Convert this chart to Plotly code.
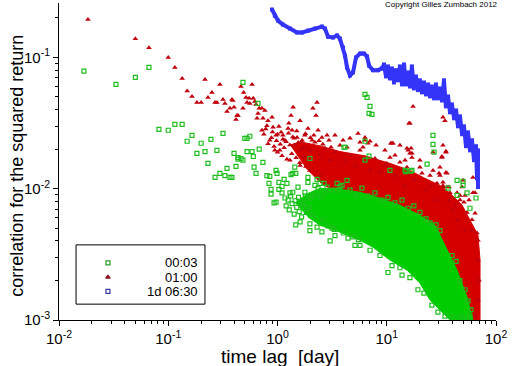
import plotly.graph_objects as go

# ---------------- data ----------------
# 00:03 series (green squares): scattered points
green_lag = [0.0169, 0.0332, 0.05, 0.0666, 0.0822, 0.1, 0.115, 0.134, 0.149, 0.165, 0.183, 0.2, 0.217, 0.231,
             0.246, 0.268, 0.279, 0.297, 0.317, 0.33, 0.345, 0.367, 0.383, 0.4, 0.417, 0.435, 0.463, 0.483,
             0.502, 0.526, 0.558, 0.526, 0.585, 0.6, 0.61, 0.636, 0.663, 0.68, 0.736, 0.8, 0.85, 0.836, 0.873,
             0.97, 0.99, 1.03, 1.1, 1.15, 1.22, 1.33, 1.38, 1.44, 1.47, 0.93, 0.97, 1.03, 1.17, 1.25, 1.1,
             0.873, 1.30, 1.38, 1.54, 1.90, 1.90, 1.98, 2.2, 2.3, 2.45, 2.67, 2.84, 3.51, 3.9, 4.15, 3.58,
             4.33, 2.3, 3.15, 4.06, 6.32, 6.32, 6.32, 6.6, 7.03, 7.32, 6.88, 6.88, 26.5, 26.5, 27.1, 23.4,
             44.0, 49.9, 54.3, 44.0, 49.9, 15.0, 16.7, 10.7, 17.0, 14.7, 36.4, 65.6, 57.8, 0.483, 0.435,
             1.78, 2.07, 2.35, 2.78, 3.22, 3.73, 4.61, 5.23, 5.93, 6.73, 7.8, 9.05, 10.26, 11.9, 13.8, 15.7,
             17.7, 20.1, 22.9, 24.9, 28.2, 30.7,
             1.61, 1.98, 2.55, 3.36, 4.42, 5.69, 7.03, 8.67, 11.17, 13.2, 16.3, 19.3, 21.9, 25.9, 29.4, 34.1,
             10.26, 13.8, 5.12, 3.03, 1.98, 1.47, 39.5, 46.8, 53.1, 57.8,
             39.5, 43.1, 46.8, 52.0, 55.4, 59.0,
             1.2, 1.28, 1.36, 1.42, 1.5, 1.58, 1.66, 1.72, 1.84, 1.95, 2.12, 2.6, 2.9, 3.3, 4.0, 4.9, 5.5,
             1.32, 1.45, 1.56, 1.7, 1.8, 2.0, 2.25, 2.5]
green_corr = [0.0786, 0.0623, 0.0705, 0.084, 0.0283, 0.0279, 0.0309, 0.0309, 0.023, 0.0255, 0.0186, 0.0222,
              0.0192, 0.0156, 0.0238, 0.0122, 0.0196, 0.0131, 0.0264, 0.0126, 0.0143, 0.0122, 0.0122, 0.0186,
              0.0148, 0.0168, 0.017, 0.0645, 0.0242, 0.0242, 0.0251, 0.0192, 0.0192, 0.0176, 0.0146, 0.0131,
              0.0447, 0.02, 0.0159, 0.0126, 0.0124, 0.011, 0.0099, 0.0138, 0.0131, 0.0112, 0.0104, 0.0118,
              0.011, 0.0128, 0.0131, 0.0146, 0.0131, 0.0078, 0.0079, 0.0099, 0.0085, 0.0082, 0.0093, 0.0091,
              0.0093, 0.0094, 0.0103, 0.0122, 0.0112, 0.017, 0.0106, 0.0118, 0.011, 0.011, 0.0103, 0.011,
              0.0106, 0.0207, 0.00975, 0.0116, 0.0051, 0.005, 0.0207, 0.023, 0.0165, 0.0523, 0.0496, 0.0424,
              0.0369, 0.0375, 0.0177, 0.0255, 0.0218, 0.019, 0.0154, 0.0116, 0.0114, 0.0093, 0.0089, 0.0106,
              0.0135, 0.0136, 0.0138, 0.0138, 0.0138, 0.0101, 0.0085, 0.0071, 0.0165, 0.0173,
              0.0094, 0.0089, 0.0101, 0.0094, 0.00975, 0.0104, 0.00975, 0.0089, 0.0101, 0.0088, 0.0093, 0.0082,
              0.0086, 0.0078, 0.0082, 0.0071, 0.0074, 0.0066, 0.0059, 0.0055, 0.0053, 0.0048,
              0.0056, 0.0054, 0.0047, 0.0044, 0.0042, 0.0037, 0.0034, 0.0031, 0.0026, 0.0025, 0.0021, 0.0017,
              0.0016, 0.0013, 0.00115, 0.00107, 0.0023, 0.0022, 0.0037, 0.004, 0.0048, 0.0053, 0.00104,
              0.00107, 0.00104, 0.00107,
              0.0031, 0.0028, 0.002, 0.0017, 0.0014, 0.0012,
              0.0074, 0.0069, 0.0077, 0.0064, 0.0072, 0.0067, 0.0061, 0.0075, 0.0066, 0.0072, 0.0063, 0.0058,
              0.0052, 0.0049, 0.0046, 0.0043, 0.0041,
              0.0088, 0.0081, 0.0086, 0.0079, 0.0088, 0.0084, 0.009, 0.0087]

# 00:03 series: outline of the densely packed region
green_core_lag = [1.45, 1.9, 2.45, 3.73, 5.69, 8.67, 13.2, 20.1, 27.7, 35.6, 44.0, 54.3, 61.5, 61.5,
                  37.9, 30.7, 24.9, 20.1, 15.3, 10.7, 7.48, 5.69, 3.73, 2.45, 1.9]
green_core_corr = [0.0078, 0.0092, 0.0101, 0.0099, 0.0094, 0.00848, 0.0075, 0.00628, 0.00527, 0.0034,
                   0.0024, 0.0015, 0.00104, 0.001,
                   0.001, 0.00119, 0.00142, 0.00191, 0.0024, 0.00286, 0.00359, 0.00405, 0.00467, 0.00527,
                   0.0061]

# 01:00 series (red triangles): scattered points
red_lag = [0.0184, 0.05, 0.0666, 0.1, 0.115, 0.134, 0.149, 0.165, 0.183, 0.2, 0.217, 0.231, 0.251, 0.268,
           0.279, 0.297, 0.317, 0.33, 0.345, 0.367, 0.383, 0.4, 0.417, 0.435, 0.463, 0.483, 0.49, 0.515,
           0.526, 0.55, 0.558, 0.585, 0.6, 0.62, 0.636, 0.65, 0.663, 0.68, 0.39, 0.426, 0.721, 0.766, 0.736,
           0.891, 0.91, 0.8, 1.03, 1.08, 0.97, 1.12, 1.27, 1.33, 1.39, 1.25, 1.36, 2.3, 2.11, 2.25, 1.51,
           1.86, 1.68, 2.07, 2.55, 2.84, 2.96, 3.09, 3.98, 4.33, 5.46, 5.69, 6.32, 6.73, 6.06, 11.17, 16.3,
           17.4, 17.0, 16.7, 32.7, 34.1, 30.7, 35.6, 32.7, 49.9, 61.5, 37.2, 44.0, 16.0, 11.4, 32.7, 34.8,
           32.0, 26.5, 30.7, 34.8, 15.7, 17.0, 14.7, 15.3, 10.7, 10.0, 20.1, 21.0, 24.9, 28.8, 32.7, 37.9,
           48.9, 46.8, 52.0, 61.5, 10.9, 7.98, 7.03, 6.32, 15.3, 16.3, 26.5, 32.0, 34.8, 30.1, 32.7, 35.6,
           37.2, 46.8, 50.9, 56.6, 64.3, 64.3, 60.3, 67.0, 60.3, 52.0, 54.3, 44.0, 40.4,
           1.17, 1.44, 1.61, 1.78, 1.98, 2.2, 2.45, 2.72, 3.03, 3.36, 3.73, 4.15, 4.61, 5.12, 5.69, 6.32,
           7.03, 7.8, 8.67, 9.63, 11.9, 13.2, 14.7, 18.2, 22.4, 27.7, 1.05, 1.30, 1.61, 1.98, 2.45, 0.85,
           0.945, 0.721, 0.818, 1.61, 1.90, 2.35, 3.36, 4.61, 9.63, 11.9, 13.2, 20.1, 24.9, 42.1, 68.4,
           68.4, 69.9, 68.4, 65.6, 60.3,
           0.75, 0.82, 0.88, 0.93, 0.98, 1.0, 1.06, 1.1, 1.15, 1.2, 1.22, 1.3, 1.35, 1.42, 1.48, 1.55,
           1.6, 1.7, 1.75, 1.82, 0.78, 0.9, 1.0, 1.12, 1.26, 1.38, 1.5, 1.65, 1.8, 2.0, 2.15, 2.4, 2.6]
red_corr = [0.195, 0.139, 0.1185, 0.1, 0.084, 0.0692, 0.0555, 0.0505, 0.0453, 0.0453, 0.068, 0.0496,
            0.0542, 0.0453, 0.0453, 0.0623, 0.0479, 0.0447, 0.0388, 0.041, 0.0479, 0.0417, 0.0337, 0.0362,
            0.0601, 0.041, 0.0542, 0.0496, 0.0453, 0.0488, 0.0447, 0.0623, 0.0488, 0.0462, 0.0439, 0.0344,
            0.0375, 0.041, 0.047, 0.0362, 0.041, 0.0395, 0.0344, 0.035, 0.0294, 0.0302, 0.0298, 0.0269,
            0.0255, 0.0255, 0.0315, 0.0362, 0.0417, 0.0288, 0.0279, 0.0453, 0.041, 0.0362, 0.0246, 0.0207,
            0.0234, 0.0234, 0.0246, 0.0255, 0.0234, 0.0207, 0.0234, 0.0207, 0.0264, 0.0226, 0.0234, 0.0222,
            0.0207, 0.0222, 0.0315, 0.0424, 0.0186, 0.0203, 0.035, 0.033, 0.0146, 0.0131, 0.0112, 0.0116,
            0.0122, 0.0103, 0.0093, 0.0315, 0.0222, 0.0214, 0.0193, 0.0176, 0.0138, 0.0126, 0.0133, 0.0196,
            0.0173, 0.0165, 0.0146, 0.0173, 0.0156, 0.0146, 0.0131, 0.0106, 0.011, 0.0103, 0.0093, 0.0103,
            0.0089, 0.0089, 0.0093, 0.0222, 0.0214, 0.023, 0.0246, 0.0203, 0.0186, 0.019, 0.0173, 0.019,
            0.0131, 0.0106, 0.0103, 0.0081, 0.0082, 0.0079, 0.0082, 0.0093, 0.0065, 0.0058, 0.0046, 0.0048,
            0.0048, 0.0066, 0.0058, 0.0069,
            0.0234, 0.0214, 0.0196, 0.0255, 0.0196, 0.0226, 0.018, 0.0203, 0.0165, 0.019, 0.0214, 0.0165,
            0.018, 0.015, 0.0196, 0.0165, 0.0138, 0.017, 0.0133, 0.015, 0.0126, 0.0159, 0.0106, 0.0116,
            0.00975, 0.0082, 0.0196, 0.0165, 0.015, 0.0138, 0.0126, 0.0234, 0.0196, 0.0279, 0.033, 0.033,
            0.0288, 0.0279, 0.0255, 0.0242, 0.0196, 0.018, 0.0214, 0.0165, 0.0126, 0.0075, 0.00405,
            0.00286, 0.00201, 0.00142, 0.00109, 0.00104,
            0.026, 0.022, 0.0245, 0.021, 0.0232, 0.019, 0.0218, 0.0178, 0.0205, 0.0228, 0.0168, 0.0215,
            0.0185, 0.0242, 0.0172, 0.0225, 0.0158, 0.0205, 0.0175, 0.0148, 0.0285, 0.027, 0.026, 0.0238,
            0.0265, 0.0248, 0.0275, 0.0228, 0.0262, 0.0245, 0.0255, 0.0232, 0.0218]

# 01:00 series: outline of the densely packed region
red_core_lag = [1.3, 1.61, 2.45, 3.73, 6.32, 10.7, 16.3, 21.5, 30.7, 37.9, 48.9, 57.8, 68.4, 71.4, 71.4,
                57.8, 46.8, 37.9, 30.7, 24.9, 18.2, 13.2, 8.67, 5.69, 3.73, 2.45, 1.8]
red_core_corr = [0.0215, 0.0228, 0.0212, 0.0192, 0.0178, 0.0156, 0.0138, 0.0122, 0.0106, 0.00925, 0.0075,
                 0.00575, 0.00443, 0.00286, 0.001,
                 0.001, 0.00142, 0.00201, 0.00262, 0.0034, 0.00443, 0.00527, 0.00628, 0.0075, 0.00894,
                 0.0112, 0.0145]

# 1d 06:30 series (blue squares), dense enough to read as a line
blue_lag = [0.891, 0.945, 1.01, 1.12, 1.30, 1.51, 1.68, 1.90, 2.2, 2.55, 2.72, 2.90, 3.22, 3.51, 3.73,
            3.98, 4.15, 4.33, 4.61, 4.91, 5.23, 5.69, 6.19, 6.6, 6.88, 7.48, 8.32, 9.05,
            9.44, 9.84, 10.26, 10.7, 11.17, 11.65, 12.16, 12.68, 13.2, 13.8, 14.4, 15.0, 15.7, 16.3, 17.0,
            17.7, 18.5, 19.3, 20.1, 21.0, 21.9, 22.9, 23.9, 24.9, 25.9, 27.1, 28.2, 29.4, 30.7, 32.0, 33.4,
            34.8, 36.4, 37.9, 39.5, 41.3, 43.1, 44.9, 46.8, 48.9, 50.9, 53.1, 55.4, 57.8, 60.3, 62.9, 65.6,
            67.0, 68.4, 68.4]
blue_corr = [0.232, 0.208, 0.191, 0.178, 0.166, 0.155, 0.155, 0.160, 0.166, 0.172, 0.166, 0.144, 0.142,
             0.147, 0.139, 0.119, 0.103, 0.084, 0.073, 0.0769, 0.1, 0.107, 0.107, 0.1017, 0.0869, 0.08, 0.08,
             0.0825,
             0.0885, 0.0717, 0.0855, 0.0692, 0.0825, 0.0645, 0.08, 0.067, 0.0855, 0.0623, 0.0885, 0.0623,
             0.0769, 0.0601, 0.0855, 0.0581, 0.0717, 0.0564, 0.067, 0.0542, 0.0645, 0.0523, 0.0623, 0.0505,
             0.0601, 0.0488, 0.0623, 0.0488, 0.0581, 0.047, 0.067, 0.0424, 0.0505, 0.0382, 0.0439, 0.0344,
             0.0395, 0.0299, 0.0356, 0.026, 0.0299, 0.0211, 0.0269, 0.0196, 0.0234, 0.0165, 0.0211, 0.012,
             0.0196, 0.0103]

legend_names = ["00:03", "01:00", "1d 06:30"]
x_tick_vals = [0.01, 0.1, 1, 10, 100]
x_tick_text = ["10<sup>-2</sup>", "10<sup>-1</sup>", "10<sup>0</sup>", "10<sup>1</sup>", "10<sup>2</sup>"]
y_tick_vals = [0.001, 0.01, 0.1]
y_tick_text = ["10<sup>-3</sup>", "10<sup>-2</sup>", "10<sup>-1</sup>"]

# ---------------- styling ----------------
GREEN = "#00cc00"
GREEN_M = "#1fbf1f"
RED = "#d40000"
RED_M = "#c0000c"
BLUE = "#3434f8"
FONT = "Liberation Sans, Arial, sans-serif"

fig = go.Figure()

fig.add_trace(go.Scatter(x=red_core_lag, y=red_core_corr, mode="lines", fill="toself",
                         fillcolor=RED, line=dict(color=RED, width=1), hoverinfo="skip",
                         showlegend=False))
fig.add_trace(go.Scatter(x=red_lag, y=red_corr, mode="markers", name=legend_names[1],
                         marker=dict(symbol="triangle-up", size=5, color=RED_M, line=dict(width=0)),
                         showlegend=False))
fig.add_trace(go.Scatter(x=green_core_lag, y=green_core_corr, mode="lines", fill="toself",
                         fillcolor=GREEN, line=dict(color=GREEN, width=1), hoverinfo="skip",
                         showlegend=False))
fig.add_trace(go.Scatter(x=green_lag, y=green_corr, mode="markers", name=legend_names[0],
                         marker=dict(symbol="square-open", size=4, color=GREEN_M, line=dict(width=1.2)),
                         showlegend=False))
fig.add_trace(go.Scatter(x=blue_lag, y=blue_corr, mode="lines+markers", name=legend_names[2],
                         line=dict(color=BLUE, width=4),
                         marker=dict(symbol="square", size=4, color=BLUE),
                         showlegend=False))

# custom legend (markers on an overlay axis spanning the plot area)
leg_y = [0.18, 0.135, 0.09]
leg_colors = ["#2a9a2a", "#8b1520", "#3a3aa0"]
fig.add_trace(go.Scatter(x=[0.112, 0.112, 0.112], y=leg_y, xaxis="x2", yaxis="y2", mode="markers",
                         marker=dict(symbol=["square-open", "triangle-up", "square-open"], size=4,
                                     color=leg_colors, line=dict(width=1.2, color=leg_colors)),
                         hoverinfo="skip", showlegend=False))
annotations = []
for name, yy in zip(legend_names, leg_y):
    annotations.append(dict(x=0.322, y=yy, xref="paper", yref="paper", text=name, showarrow=False,
                            xanchor="right", yanchor="middle", font=dict(family=FONT, size=13, color="black")))
annotations.append(dict(x=1.01, y=0.995, xref="paper", yref="paper", text="Copyright Gilles Zumbach 2012",
                        showarrow=False, xanchor="right", yanchor="middle",
                        font=dict(family=FONT, size=8, color="black")))
annotations.append(dict(x=0.506, y=-0.114, xref="paper", yref="paper", text="time lag  [day]",
                        showarrow=False, xanchor="center", yanchor="middle",
                        font=dict(family=FONT, size=19, color="black")))
annotations.append(dict(x=-0.098, y=0.487, xref="paper", yref="paper", text="correlation for the squared return",
                        showarrow=False, xanchor="center", yanchor="middle", textangle=-90,
                        font=dict(family=FONT, size=18, color="black")))

axis_common = dict(type="log", showline=True, linecolor="black", linewidth=1, ticks="outside",
                   ticklen=5, tickcolor="black", tickwidth=1, showgrid=False, zeroline=False,
                   automargin=False,
                   tickfont=dict(family=FONT, size=15, color="black"),
                   minor=dict(ticks="outside", ticklen=3, tickcolor="black", dtick="D1", showgrid=False))

fig.update_layout(
    width=512, height=366, autosize=False,
    margin=dict(l=59, r=16, t=3, b=46),
    paper_bgcolor="white", plot_bgcolor="white",
    font=dict(family=FONT, color="black"),
    xaxis=dict(range=[-2, 2], tickvals=x_tick_vals, ticktext=x_tick_text, **axis_common),
    yaxis=dict(range=[-3, -0.585], tickvals=y_tick_vals, ticktext=y_tick_text, **axis_common),
    xaxis2=dict(range=[0, 1], overlaying="x", visible=False, domain=[0, 1]),
    yaxis2=dict(range=[0, 1], overlaying="y", visible=False),
    shapes=[dict(type="rect", xref="paper", yref="paper", x0=0.039, x1=0.334, y0=0.05, y1=0.237,
                 line=dict(color="black", width=1), fillcolor="rgba(0,0,0,0)")],
    annotations=annotations,
    showlegend=False,
)

fig.write_html("out.html", config={"displayModeBar": False},
               post_script="document.body.style.margin='0px';document.body.style.overflow='hidden';")
